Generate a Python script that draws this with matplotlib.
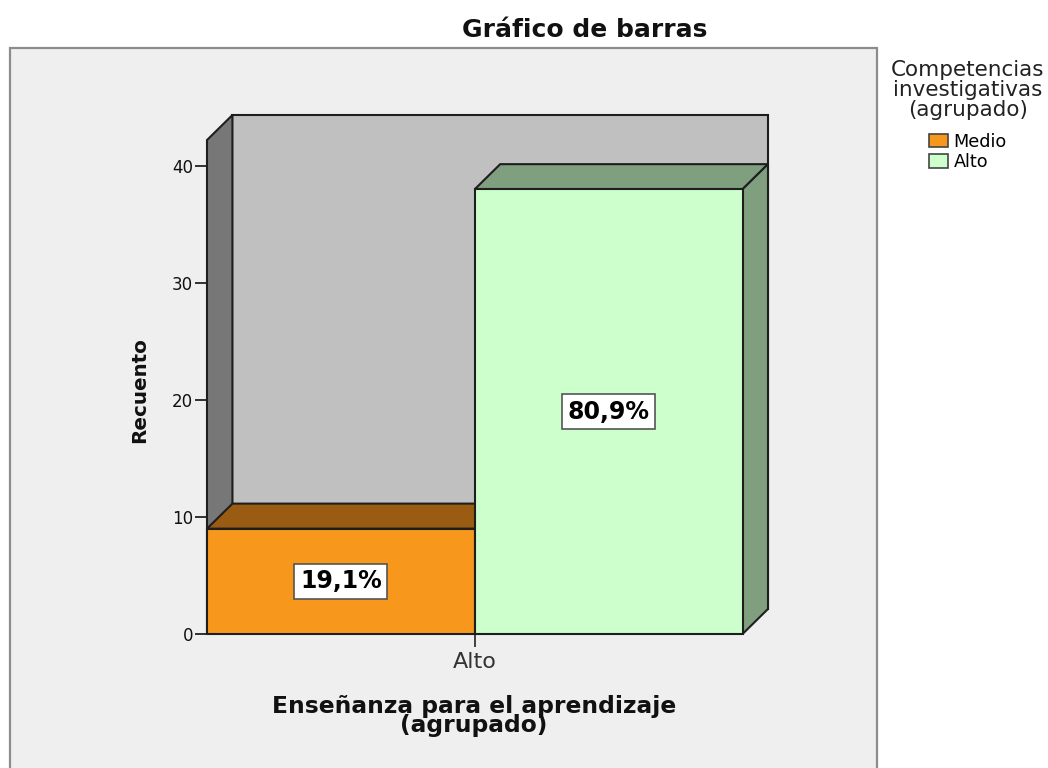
import matplotlib
matplotlib.use("Agg")
import matplotlib.pyplot as plt
from matplotlib.patches import Polygon, Rectangle, Patch

# ---- data ----
x_category = ["Alto"]                      # Enseñanza para el aprendizaje (agrupado)
series_names = ["Medio", "Alto"]           # Competencias investigativas (agrupado)
series_counts = [9, 38]
y_ticks = [0, 10, 20, 30, 40]

front_colors = ["#f7981d", "#ccffcc"]
shade_colors = ["#9a5b13", "#7f9f7f"]

total = sum(series_counts)
pct_labels = [f"{100 * c / total:.1f}".replace(".", ",") + "%" for c in series_counts]

# ---- figure ----
W, H = 1048, 768
fig = plt.figure(figsize=(W / 100, H / 100), dpi=100)
fig.patch.set_facecolor("white")

# outer chart frame
frame = Rectangle((10 / W, -0.05), 867 / W, (H - 48) / H + 0.05,
                  transform=fig.transFigure, facecolor="#efefef",
                  edgecolor="#8c8c8c", linewidth=1.6, zorder=-10)
fig.patches.append(frame)

# axes placed so front-face coordinates follow the reference
left_px, right_px, bottom_px, top_px = 207, 768, 634, 115
ax = fig.add_axes([left_px / W, (H - bottom_px) / H,
                   (right_px - left_px) / W, (bottom_px - top_px) / H])
ax.set_facecolor("none")
ax.set_zorder(5)

ddx = 0.095      # depth offset in x (category units)
ddy = 2.14       # depth offset in y (count units)
wall_h = 42.2    # height of walls (front coordinates)
ax.set_xlim(-1, 1 + ddx)
ax.set_ylim(0, wall_h + ddy)

ec = "#1e1e1e"
lw = 1.5

# back wall
ax.add_patch(Polygon([(-1 + ddx, ddy), (1 + ddx, ddy), (1 + ddx, wall_h + ddy), (-1 + ddx, wall_h + ddy)],
                     closed=True, facecolor="#c0c0c0", edgecolor=ec, linewidth=lw, clip_on=False, zorder=1))
# left wall
ax.add_patch(Polygon([(-1, 0), (-1 + ddx, ddy), (-1 + ddx, wall_h + ddy), (-1, wall_h)],
                     closed=True, facecolor="#777777", edgecolor=ec, linewidth=lw, clip_on=False, zorder=2))

# bars: Medio occupies [-1, 0], Alto occupies [0, 1] around the "Alto" category
lefts = [-1, 0]
for i, (x0, v) in enumerate(zip(lefts, series_counts)):
    x1 = x0 + 1
    z = 3 + i
    # top face
    ax.add_patch(Polygon([(x0, v), (x1, v), (x1 + ddx, v + ddy), (x0 + ddx, v + ddy)], closed=True,
                         facecolor=shade_colors[i], edgecolor=ec, linewidth=lw, clip_on=False, zorder=z))
    # right side face
    ax.add_patch(Polygon([(x1, 0), (x1 + ddx, ddy), (x1 + ddx, v + ddy), (x1, v)], closed=True,
                         facecolor=shade_colors[i], edgecolor=ec, linewidth=lw, clip_on=False, zorder=z))
    # front face
    ax.add_patch(Rectangle((x0, 0), 1, v, facecolor=front_colors[i], edgecolor=ec,
                           linewidth=lw, clip_on=False, zorder=z))
    ax.text(x0 + 0.5, v / 2, pct_labels[i], ha="center", va="center", fontsize=17,
            fontweight="bold", color="black", zorder=10,
            bbox=dict(boxstyle="square,pad=0.24", facecolor="white", edgecolor="#555555", linewidth=1.2))

for s in ax.spines.values():
    s.set_visible(False)

ax.set_yticks(y_ticks)
ax.set_yticklabels([str(t) for t in y_ticks])
ax.set_xticks([0])
ax.set_xticklabels(x_category)
ax.tick_params(axis="y", direction="out", length=9, width=1.3, color="#222222",
               pad=1, labelsize=12, labelcolor="#111111")
ax.tick_params(axis="x", direction="out", length=9, width=1.3, color="#333333",
               pad=4, labelsize=16, labelcolor="#333333")

# titles
fig.text(585 / W, 1 - 30 / H, "Gráfico de barras", ha="center", va="center",
         fontsize=18, fontweight="bold", color="#111111")
fig.text(140 / W, 1 - 390 / H, "Recuento", ha="center", va="center", rotation=90,
         fontsize=14.3, fontweight="bold", color="#111111")
fig.text(474 / W, 1 - 716 / H, "Enseñanza para el aprendizaje\n(agrupado)", ha="center", va="center",
         fontsize=16.8, fontweight="bold", color="#111111", linespacing=0.8)

# legend title and entries
fig.text(968 / W, 1 - 90 / H, "Competencias\ninvestigativas\n(agrupado)", ha="center", va="center",
         multialignment="center", fontsize=15.5, color="#222222", linespacing=1.0)
handles = [Patch(facecolor=c, edgecolor="#444444", linewidth=1.2) for c in front_colors]
leg = ax.legend(handles, series_names,
                loc="upper center", bbox_to_anchor=(968 / W, 1 - 124 / H), bbox_transform=fig.transFigure,
                frameon=False, fontsize=12.7, handlelength=1.1, handleheight=0.8,
                handletextpad=0.3, labelspacing=0.12, borderpad=0)

fig.savefig("out.png", dpi=100, facecolor="white")
